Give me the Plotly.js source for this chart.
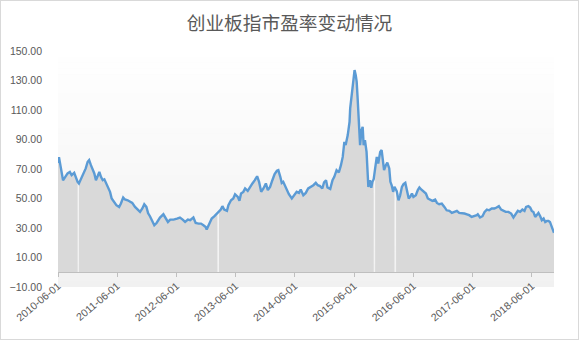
<!DOCTYPE html>
<html><head><meta charset="utf-8">
<script src="https://cdn.plot.ly/plotly-3.0.1.min.js"></script>
<style>
body{margin:0;background:#fff;}
#wrap{position:relative;width:579px;height:340px;}
#chart{width:579px;height:340px;}
#frame{position:absolute;left:0;top:0;width:579px;height:340px;box-sizing:border-box;border:1px solid #d9d9d9;pointer-events:none;}
</style>
</head><body>
<div id="wrap"><div id="chart"></div><div id="frame"></div></div>
<script>
const chartTitle = '创业板指市盈率变动情况';
const tickDates = ['2010-06-01','2011-06-01','2012-06-01','2013-06-01','2014-06-01','2015-06-01','2016-06-01','2017-06-01','2018-06-01'];
const dates = [
'2010-06-01','2010-06-07','2010-06-19','2010-07-02','2010-07-14','2010-07-30','2010-08-13','2010-08-24','2010-09-09','2010-09-17','2010-09-30','2010-10-04','2010-10-08','2010-10-21','2010-11-04','2010-11-19','2010-12-01','2010-12-10','2010-12-21','2010-12-29',
'2011-01-11','2011-01-21','2011-01-31','2011-02-11','2011-02-21','2011-03-04','2011-03-14','2011-03-24','2011-04-07','2011-04-18','2011-04-28','2011-05-13','2011-05-27','2011-06-13','2011-06-24','2011-07-08','2011-07-19','2011-08-05','2011-08-19','2011-09-02','2011-09-19','2011-10-10','2011-10-20','2011-11-03','2011-11-15','2011-11-28','2011-12-09','2011-12-20','2011-12-30',
'2012-01-16','2012-01-30','2012-02-20','2012-03-12','2012-03-27','2012-04-09','2012-04-23','2012-05-14','2012-06-04','2012-06-22','2012-07-09','2012-07-24','2012-08-10','2012-08-24','2012-09-13','2012-09-27','2012-10-15','2012-10-30','2012-11-14','2012-11-28','2012-12-04','2012-12-19',
'2013-01-04','2013-01-21','2013-02-05','2013-02-08','2013-02-12','2013-02-18','2013-03-01','2013-03-11','2013-03-22','2013-04-08','2013-04-17','2013-05-03','2013-05-17','2013-05-28','2013-06-14','2013-06-24','2013-07-04','2013-07-18','2013-07-29','2013-08-14','2013-08-28','2013-09-12','2013-09-27','2013-10-11','2013-10-23','2013-11-05','2013-11-19','2013-12-04','2013-12-16','2013-12-30',
'2014-01-13','2014-01-27','2014-02-10','2014-02-19','2014-03-03','2014-03-12','2014-03-21','2014-04-01','2014-04-11','2014-04-25','2014-05-13','2014-05-29','2014-06-12','2014-06-26','2014-07-07','2014-07-23','2014-08-07','2014-08-22','2014-09-09','2014-09-23','2014-10-08','2014-10-20','2014-11-03','2014-11-17','2014-11-28','2014-12-10','2014-12-19',
'2015-01-05','2015-01-19','2015-01-30','2015-02-13','2015-02-27','2015-03-12','2015-03-23','2015-04-02','2015-04-10','2015-04-23','2015-05-04','2015-05-08','2015-05-18','2015-05-27','2015-06-04','2015-06-11','2015-06-17','2015-06-23','2015-07-01','2015-07-08','2015-07-17','2015-07-24','2015-07-30','2015-08-07','2015-08-17','2015-08-24','2015-08-28','2015-09-07','2015-09-15','2015-09-22','2015-09-30','2015-10-04','2015-10-09','2015-10-19','2015-10-28','2015-11-09','2015-11-18','2015-11-25','2015-12-03','2015-12-14','2015-12-23',
'2016-01-04','2016-01-11','2016-01-19','2016-01-28','2016-02-05','2016-02-10','2016-02-15','2016-02-19','2016-03-01','2016-03-11','2016-03-22','2016-04-01','2016-04-12','2016-04-22','2016-05-03','2016-05-12','2016-05-23','2016-06-01','2016-06-16','2016-06-28','2016-07-08','2016-07-19','2016-08-02','2016-08-17','2016-08-29','2016-09-12','2016-09-26','2016-10-13','2016-10-24','2016-11-07','2016-11-23','2016-12-09','2016-12-23',
'2017-01-09','2017-01-24','2017-02-09','2017-02-24','2017-03-10','2017-03-27','2017-04-12','2017-04-27','2017-05-11','2017-05-26','2017-06-12','2017-06-27','2017-07-03','2017-07-17','2017-08-01','2017-08-14','2017-08-28','2017-09-11','2017-09-27','2017-10-13','2017-10-27','2017-11-10','2017-11-24','2017-12-08','2017-12-22',
'2018-01-08','2018-01-25','2018-02-08','2018-02-22','2018-03-07','2018-03-21','2018-04-04','2018-04-17','2018-04-27','2018-05-11','2018-05-22','2018-06-01','2018-06-11','2018-06-22','2018-07-02','2018-07-12','2018-07-23','2018-08-02','2018-08-13','2018-08-23','2018-09-03','2018-09-12','2018-09-21','2018-09-28','2018-10-08','2018-10-16'
];
const pe = [
74,78,70.6,62.4,64.3,67,68,65.8,67.4,64.7,61.3,null,60.2,63,67,70.4,74.9,76,72.6,70.4,
67,62.4,64.7,68,64.7,62.4,63,60.6,57.9,54.5,50,47.7,45.5,44.3,46.6,50.7,49.3,48.8,47.7,47,44.3,42,40.9,43.2,46.1,44.3,40,38,35.3,
31.9,33.4,37.1,39.3,36.4,34.1,35.7,35.7,36.4,37.1,35.7,34.1,35.7,35.3,37.1,33.4,33,33,31.9,30.7,28.9,33,
36.4,38,39.8,40.5,null,41,42.5,44.8,42.5,41.6,45.5,48.8,50,52.9,51.1,48.4,53.4,54.5,56.8,55.2,57.9,60.2,62.4,65.1,61.3,54.5,56.8,60.2,55.7,57.9,
62.4,66.5,68.8,69.2,64.7,60.6,61.3,58.4,55.7,52.9,50,52.2,54.5,53.8,56.1,52.2,53.8,56.8,57.9,59,60.6,59,58.4,56.8,61,62.4,57.5,
56.5,62.4,64.7,69.2,67.6,72.6,78.2,88.4,86.2,93,102,111.1,122.4,131.5,137.1,133.7,129.2,117.9,104.3,86.2,96.4,98.6,86.2,89.6,81.6,65.8,57.9,62.4,57.2,61.3,63.1,null,70.4,78.2,73.7,81.6,82.8,77.2,69.2,72.6,74.4,
70.4,61.3,59,54.5,58,null,56,55,48.8,52,57.9,59.7,60.6,55.7,50,51.1,53.4,51.1,52.2,55.7,57.5,56.1,54.5,53.4,50,49.3,48.4,49.3,47,46.1,46.5,44.3,42,
41.6,40.2,40.9,41.6,40.2,40.2,39.8,39.3,38.7,37.5,38,38.7,39.3,37.1,38,40.9,42.5,42,43.2,43.2,43.9,44.8,42.5,41.6,40.9,
40.9,39.8,37.1,39.3,41.6,40.9,42.5,41.6,44.3,44.8,43.9,41.6,40.9,37.5,39.3,40.2,38,35.3,36.4,34.1,34.8,34.8,34.1,31.9,28.9,26.7
];

const xRange = [dates[0], dates[dates.length - 1]];
const yMin = -10, yMax = 150;
const yFont = {family: '"Liberation Sans", Arial, sans-serif', size: 10.5, color: '#595959'};
const xFont = {family: '"Liberation Sans", Arial, sans-serif', size: 10.5, color: '#595959'};

// soft vertical gradient for the plot area (style only)
const shapes = [];
const bands = 40;
for (let i = 0; i < bands; i++) {
  const c = Math.round(241 + (255 - 241) * ((i + 0.5) / bands));
  shapes.push({type: 'rect', xref: 'paper', yref: 'paper', x0: 0, x1: 1,
    y0: i / bands, y1: (i + 1) / bands + 0.002,
    fillcolor: `rgb(${c},${c},${c})`, line: {width: 0}, layer: 'below'});
}

// split the series at missing days so the area shows breaks there
const segments = [];
let cur = {x: [], y: []};
dates.forEach((d, i) => {
  if (pe[i] === null) { if (cur.x.length) segments.push(cur); cur = {x: [], y: []}; }
  else { cur.x.push(d); cur.y.push(pe[i]); }
});
if (cur.x.length) segments.push(cur);

const traces = segments.map(s => ({
  x: s.x, y: s.y, type: 'scatter', mode: 'none', fill: 'tozeroy',
  fillcolor: '#d9d9d9', xaxis: 'x', yaxis: 'y', hoverinfo: 'skip'
}));
traces.push({x: dates, y: pe, type: 'scatter', mode: 'lines', connectgaps: true,
  line: {color: '#5b9bd5', width: 2.4}, xaxis: 'x2', yaxis: 'y', hoverinfo: 'skip'});

const layout = {
  width: 579, height: 340,
  margin: {l: 58, r: 25, t: 51, b: 53},
  paper_bgcolor: '#ffffff', plot_bgcolor: '#f7f7f7',
  showlegend: false,
  title: {text: chartTitle, xref: 'container', x: 0.5, xanchor: 'center',
          yref: 'container', y: 0.93, yanchor: 'middle',
          font: {family: '"Noto Sans CJK SC", sans-serif', size: 18.7, color: '#595959'}},
  xaxis: {type: 'date', range: xRange, tickmode: 'array', tickvals: tickDates,
          tickformat: '%Y-%m-%d', tickangle: -40, showgrid: false, zeroline: false,
          showline: false, ticks: '', ticklabelstandoff: -10, tickfont: xFont},
  xaxis2: {type: 'date', overlaying: 'x', anchor: 'free', position: (0 - yMin) / (yMax - yMin),
           range: xRange, tickmode: 'array', tickvals: tickDates, showticklabels: false,
           ticks: 'outside', ticklen: 4, tickcolor: '#bfbfbf', tickwidth: 1,
           showline: true, linecolor: '#bfbfbf', linewidth: 1, showgrid: false, zeroline: false},
  yaxis: {range: [yMin, yMax], tickmode: 'linear', tick0: yMin, dtick: 20, tickformat: '.2f',
          showgrid: false, zeroline: false, showline: false, ticks: '',
          ticklabelstandoff: 15, tickfont: yFont},
  shapes: shapes
};

Plotly.newPlot('chart', traces, layout, {displayModeBar: false, staticPlot: true});
</script>
</body></html>
